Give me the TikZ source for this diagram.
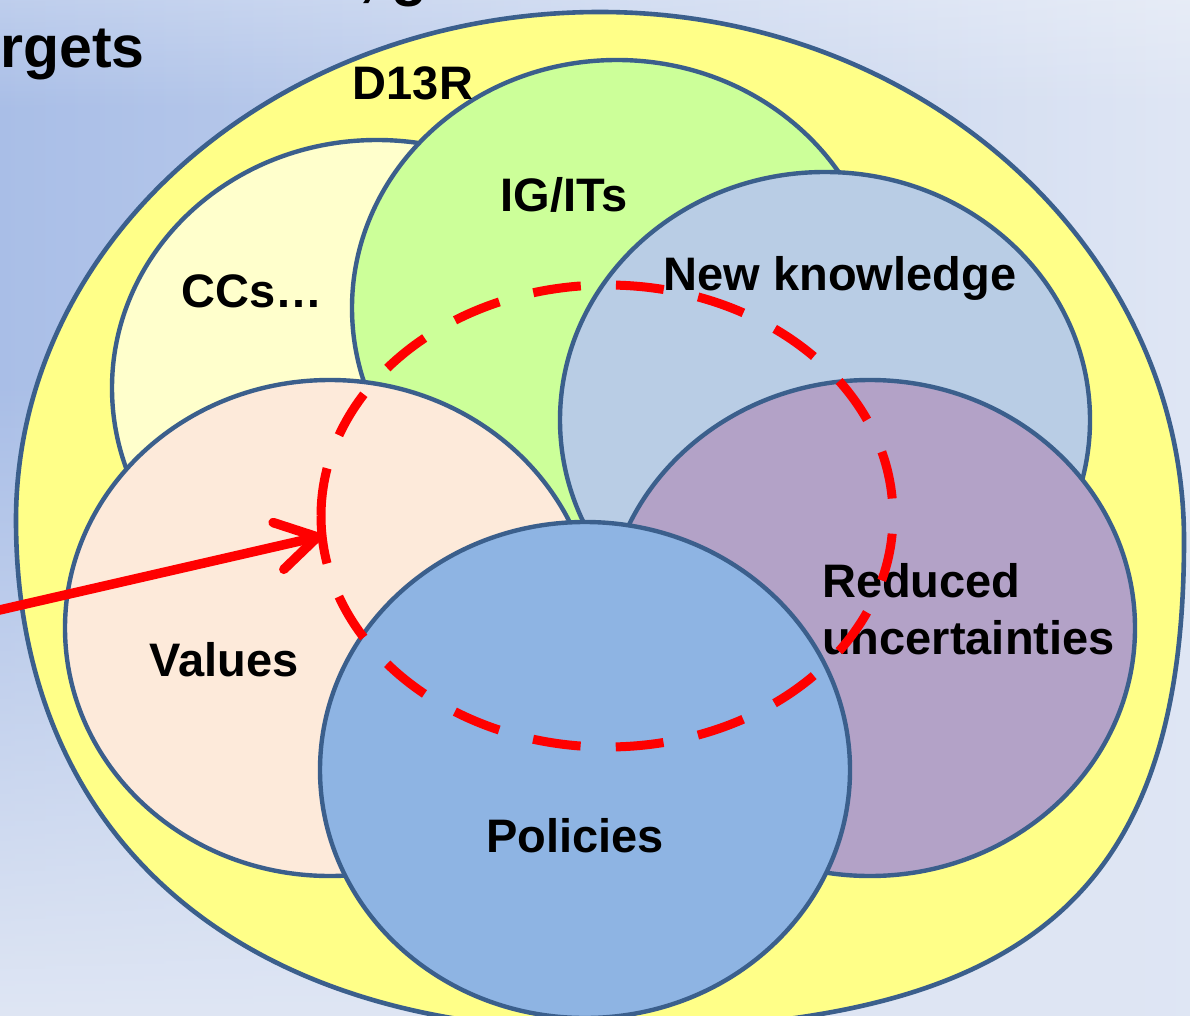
\documentclass[tikz,border=0pt]{standalone}
\usepackage{fontspec}
\setmainfont{Liberation Sans}
\usetikzlibrary{shapes.geometric,arrows.meta,fadings}
\definecolor{bgL}{HTML}{A9BEE7}
\definecolor{bgR}{HTML}{DFE6F4}
\definecolor{edge}{HTML}{3B5F8C}
\definecolor{outerY}{HTML}{FFFF88}
\definecolor{ccsC}{HTML}{FFFFCC}
\definecolor{igC}{HTML}{CCFF99}
\definecolor{nkC}{HTML}{B9CDE5}
\definecolor{valC}{HTML}{FDEADA}
\definecolor{ruC}{HTML}{B3A2C7}
\definecolor{polC}{HTML}{8EB4E3}
\definecolor{loopRed}{HTML}{FF0000}
\tikzfading[name=fadeinbottom, top color=transparent!100, bottom color=transparent!0]
\tikzfading[name=fadeintop, top color=transparent!0, bottom color=transparent!100]
\begin{document}
\begin{tikzpicture}[x=1pt,y=-1pt,
  blob/.style={ellipse, draw=edge, line width=4.4pt, minimum width=530pt,
    minimum height=496pt, inner sep=0pt, outer sep=0pt},
  lbl/.style={font=\fontsize{47}{56}\selectfont\bfseries, text=black, inner sep=0pt},
  title/.style={font=\fontsize{59}{70}\selectfont\bfseries, text=black, inner sep=0pt},
  loopline/.style={draw=loopRed, line width=9pt, dash pattern=on 48pt off 35.2pt},
  arrowline/.style={draw=loopRed, line width=9.5pt,
    -{Straight Barb[length=40pt, width=48pt, line cap=round, line join=round]}}
]
\useasboundingbox (0,0) rectangle (1190,1016);
\clip (0,0) rectangle (1190,1016);
% background
\shade[left color=bgL, right color=bgR] (0,0) rectangle (1190,1016);
\fill[bgR, path fading=fadeinbottom] (0,380) rectangle (1190,1016);
\fill[white, fill opacity=0.25, path fading=fadeintop] (0,0) rectangle (1190,110);
% title fragments
\node[title, anchor=base east] (ttarg) at (145,68) {rgets};
\node[title, anchor=base west] (tprev) at (359,-5.5) {, g};
% outer D13R shape
\draw[fill=outerY, draw=edge, line width=4.6pt]
  (600,12) .. controls (277.5,12) and (16,239.4) .. (16,520)
  .. controls (16,836.2) and (237.9,1030) .. (600,1030)
  .. controls (1026.3,1030) and (1184,897.7) .. (1184,540)
  .. controls (1184,248.4) and (922.5,12) .. (600,12) -- cycle;
% inner sets
\node[blob, fill=ccsC] (ccs) at (377,388) {};
\node[blob, fill=igC] (ig) at (617,308) {};
\node[blob, fill=nkC] (nk) at (825,420) {};
\node[blob, fill=valC] (val) at (330,628) {};
\node[blob, fill=ruC] (ru) at (870,628) {};
\node[blob, fill=polC] (pol) at (585,770) {};
% labels
\node[lbl, anchor=base] (tD) at (413,100) {D13R};
\node[lbl, anchor=base] (tIG) at (564,212) {IG/ITs};
\node[lbl, anchor=base] (tCC) at (252,307) {CCs…};
\node[lbl, anchor=base] (tNK) at (840,290) {New knowledge};
\node[lbl, anchor=base west] (tRU1) at (822,597) {Reduced};
\node[lbl, anchor=base west] (tRU2) at (822,654) {uncertainties};
\node[lbl, anchor=base] (tVal) at (224,676) {Values};
\node[lbl, anchor=base] (tPol) at (575,852) {Policies};
% dashed red loop and arrow
\node[ellipse, minimum width=572pt, minimum height=462pt,
  inner sep=0pt, outer sep=0pt] (loop) at (607,516) {};
\draw[loopline] (loop.west) arc[start angle=180, end angle=-180,
  x radius=286, y radius=231];
\coordinate (astart) at (-20,614.5);
\draw[arrowline] (astart) -- (loop.184);
\end{tikzpicture}
\end{document}
